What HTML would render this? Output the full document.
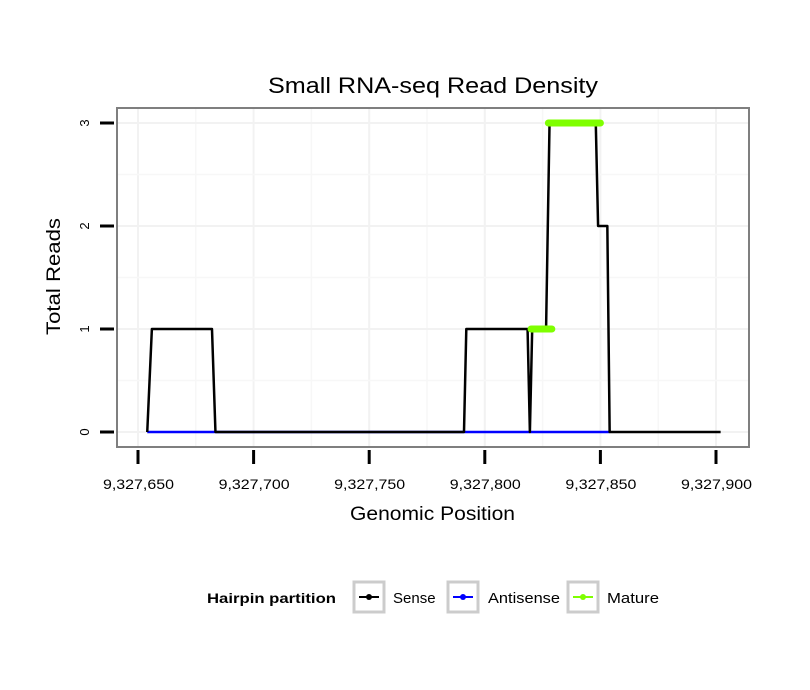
<!DOCTYPE html>
<html><head><meta charset="utf-8"><style>
body{margin:0;background:#fff;font-family:"Liberation Sans",sans-serif}
svg{display:block}
</style></head><body>
<svg id="c" width="810" height="690" xmlns="http://www.w3.org/2000/svg" font-family="Liberation Sans, sans-serif">
<text x="268" y="93" font-size="22" textLength="330" lengthAdjust="spacingAndGlyphs">Small RNA-seq Read Density</text>
<rect x="117" y="108" width="632" height="339" fill="#fff" stroke="#7f7f7f" stroke-width="2"/>
<g id="grid"></g>
<g id="series"></g>
<g id="axes"></g>
<text x="350" y="520" font-size="19" textLength="165" lengthAdjust="spacingAndGlyphs">Genomic Position</text>
<text transform="translate(60,335) rotate(-90)" font-size="19" textLength="117" lengthAdjust="spacingAndGlyphs">Total Reads</text>
<g>
<text x="207" y="603" font-size="14" font-weight="bold" textLength="129" lengthAdjust="spacingAndGlyphs">Hairpin partition</text>
<g>
<rect x="354" y="582" width="30" height="30" fill="#fff" stroke="#cccccc" stroke-width="3"/>
<line x1="359" y1="597" x2="379" y2="597" stroke="#000" stroke-width="2"/><circle cx="369" cy="597" r="3" fill="#000"/>
<text x="393" y="603" font-size="15">Sense</text></g>
<g>
<rect x="448" y="582" width="30" height="30" fill="#fff" stroke="#cccccc" stroke-width="3"/>
<line x1="453" y1="597" x2="473" y2="597" stroke="#0000ff" stroke-width="2"/><circle cx="463" cy="597" r="3" fill="#0000ff"/>
<text x="488" y="603" font-size="15" textLength="72" lengthAdjust="spacingAndGlyphs">Antisense</text></g>
<g>
<rect x="568" y="582" width="30" height="30" fill="#fff" stroke="#cccccc" stroke-width="3"/>
<line x1="573" y1="597" x2="593" y2="597" stroke="#7fff00" stroke-width="2"/><circle cx="583" cy="597" r="3" fill="#7fff00"/>
<text x="607" y="603" font-size="15" textLength="52" lengthAdjust="spacingAndGlyphs">Mature</text></g>
</g>
</svg>
<script>
const xTicks=[9327650,9327700,9327750,9327800,9327850,9327900];
const xTickLabels=["9,327,650","9,327,700","9,327,750","9,327,800","9,327,850","9,327,900"];
const yTicks=[0,1,2,3];
const senseX=[9327654,9327656,9327682,9327683.5,9327791,9327792,9327818.5,9327819.5,9327820.5,9327826.5,9327828,9327848,9327849,9327853,9327854,9327902];
const senseY=[0,1,1,0,0,1,1,0,1,1,3,3,2,2,0,0];
const antisenseX=[9327654,9327854];
const antisenseY=[0,0];
const matureSeg1X=[9327820,9327829];
const matureSeg1Y=[1,1];
const matureSeg2X=[9327827.5,9327850];
const matureSeg2Y=[3,3];
const NS="http://www.w3.org/2000/svg";
function sx(v){return 138+(v-9327650)*(578/250);}
function sy(v){return 432-v*103;}
function mk(tag,attrs,parent){const e=document.createElementNS(NS,tag);for(const k in attrs)e.setAttribute(k,attrs[k]);parent.appendChild(e);return e;}
const grid=document.getElementById('grid'),ser=document.getElementById('series'),ax=document.getElementById('axes');
for(let v=9327650;v<=9327900;v+=25){const g=mk('line',{x1:sx(v),x2:sx(v),y1:109,y2:446,stroke:v%50===0?'#f2f2f2':'#f7f7f7','stroke-width':v%50===0?2:1.5},grid);

}
for(let v=0;v<=3;v+=0.5){const g=mk('line',{x1:118,x2:748,y1:sy(v),y2:sy(v),stroke:v%1===0?'#f2f2f2':'#f7f7f7','stroke-width':v%1===0?2:1.5},grid);

}
function line(xs,ys,color,w,name){const pts=xs.map((x,i)=>sx(x)+','+sy(ys[i])).join(' ');const p=mk('polyline',{points:pts,fill:'none',stroke:color,'stroke-width':w,'stroke-linecap':w>4?'round':'butt','stroke-linejoin':'round'},ser);

}
line(antisenseX,antisenseY,'#0000ff',2.5,'antisense-line');
line(senseX,senseY,'#000',2.5,'sense-line');
line(matureSeg1X,matureSeg1Y,'#7fff00',7,'mature-line-1');
line(matureSeg2X,matureSeg2Y,'#7fff00',7,'mature-line-2');
xTicks.forEach((v,i)=>{const t=mk('line',{x1:sx(v),x2:sx(v),y1:450,y2:464,stroke:'#000','stroke-width':3},ax);


const l=mk('text',{x:sx(v)-35,y:489,'font-size':14,textLength:71,lengthAdjust:'spacingAndGlyphs'},ax);l.textContent=xTickLabels[i];

});
yTicks.forEach(v=>{const t=mk('line',{x1:100,x2:114,y1:sy(v),y2:sy(v),stroke:'#000','stroke-width':3},ax);


const l=mk('text',{transform:`translate(89,${sy(v)}) rotate(-90)`,'font-size':13,'text-anchor':'middle'},ax);l.textContent=v;

});
</script>
</body></html>
